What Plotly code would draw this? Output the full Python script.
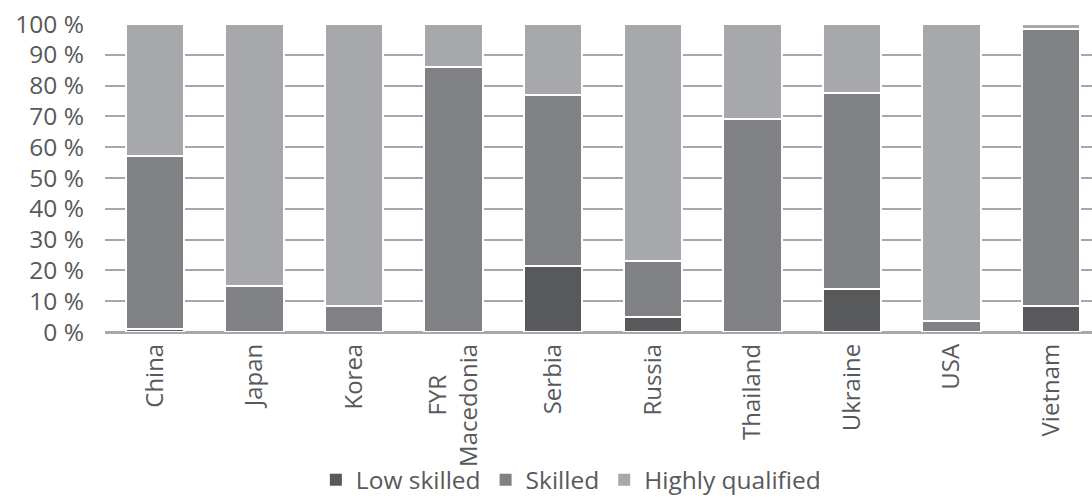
import plotly.graph_objects as go

# Share of workers by skill level, per country (percent)
countries = ["China", "Japan", "Korea", "FYR" + "\u00a0" * 5 + "\u200b<br>Macedonia", "Serbia",
             "Russia", "Thailand", "Ukraine", "USA", "Vietnam"]
low_skilled = [1, 0, 0, 0, 21.5, 5, 0, 14, 0, 8.5]
skilled = [56, 15, 8.5, 86, 55.5, 18, 69, 63.5, 3.5, 90]
highly_qualified = [43, 85, 91.5, 14, 23, 77, 31, 22.5, 96.5, 1.5]

y_ticks = list(range(0, 101, 10))
y_tick_text = [f"{v} %" for v in y_ticks]

FONT = "Open Sans"
TEXT = "#58595b"
GRID = "#a7a8ab"

series = [
    ("Low skilled", low_skilled, "#58595b"),
    ("Skilled", skilled, "#808184"),
    ("Highly qualified", highly_qualified, "#a7a8ab"),
]

fig = go.Figure()
for name, vals, color in series:
    # stacked segments, separated by a thin white outline
    fig.add_trace(go.Bar(
        name=name,
        legendgroup=name,
        showlegend=False,
        x=list(range(len(countries))),
        y=vals,
        width=0.585,
        marker=dict(color=color, line=dict(color="white", width=2.5)),
    ))
for name, vals, color in series:
    # legend entries with solid, unoutlined swatches
    fig.add_trace(go.Bar(
        name=name,
        legendgroup=name,
        x=[None],
        y=[None],
        marker=dict(color=color, line=dict(width=0)),
    ))

fig.update_layout(
    barmode="stack",
    width=1092,
    height=503,
    margin=dict(l=105, r=0, t=24, b=171),
    paper_bgcolor="white",
    plot_bgcolor="white",
    font=dict(family=FONT, size=24, color=TEXT),
    bargap=0,
    xaxis=dict(
        tickmode="array",
        tickvals=list(range(len(countries))),
        ticktext=countries,
        tickangle=-90,
        range=[-0.5, 9.41],
        showgrid=False,
        showline=False,
        zeroline=False,
        ticks="",
        ticklabelstandoff=6,
        tickfont=dict(family=FONT, size=24, color=TEXT),
    ),
    yaxis=dict(
        range=[0, 100],
        tickmode="array",
        tickvals=y_ticks,
        ticktext=y_tick_text,
        showgrid=True,
        gridcolor=GRID,
        gridwidth=2,
        zeroline=True,
        zerolinecolor=GRID,
        zerolinewidth=3,
        ticks="",
        ticklabelstandoff=20,
        tickfont=dict(family=FONT, size=24.5, color=TEXT),
    ),
    legend=dict(
        orientation="h",
        xref="paper",
        yref="paper",
        x=0.472,
        xanchor="center",
        y=-0.553,
        yanchor="bottom",
        bgcolor="rgba(0,0,0,0)",
        font=dict(family=FONT, size=24.5, color=TEXT),
        itemclick=False,
        traceorder="normal",
    ),
)

fig.write_html("out.html")
